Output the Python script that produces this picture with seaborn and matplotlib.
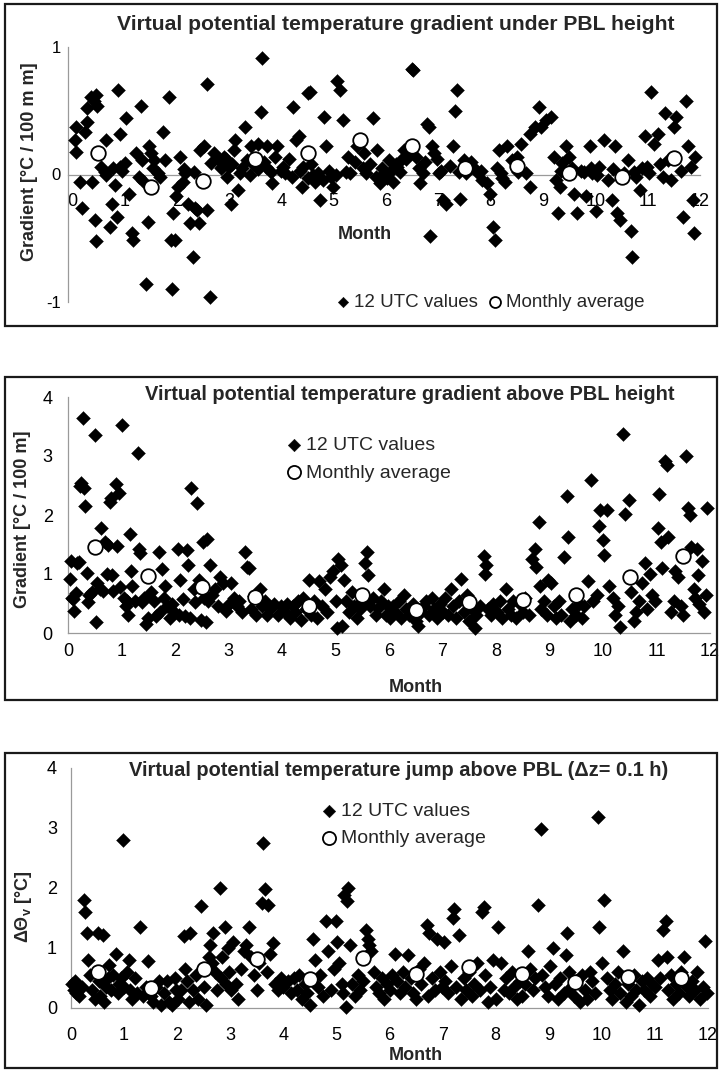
import matplotlib
matplotlib.use("Agg")
import matplotlib.pyplot as plt
from matplotlib.patches import Rectangle
import seaborn as sns
import pandas as pd

sns.set_style("white")
plt.rcParams['font.family'] = ['Liberation Sans Narrow', 'Liberation Sans', 'DejaVu Sans']
plt.rcParams['mathtext.fontset'] = 'custom'
plt.rcParams['mathtext.rm'] = 'Liberation Sans'
plt.rcParams['mathtext.it'] = 'Liberation Sans:italic'
plt.rcParams['axes.unicode_minus'] = False

# ---------------- data ----------------
avg_months = [0.5, 1.5, 2.5, 3.5, 4.5, 5.5, 6.5, 7.5, 8.5, 9.5, 10.5, 11.5]
under_avg = [0.165, -0.10, -0.05, 0.12, 0.165, 0.27, 0.22, 0.05, 0.07, 0.01, -0.02, 0.13]
above_avg = [1.45, 0.97, 0.78, 0.61, 0.45, 0.65, 0.39, 0.52, 0.56, 0.65, 0.95, 1.30]
jump_avg = [0.60, 0.34, 0.65, 0.82, 0.49, 0.84, 0.57, 0.69, 0.57, 0.43, 0.52, 0.50]

under_pts = [
    (0.05, 0.27), (0.08, 0.18), (0.08, 0.37), (0.15, -0.06), (0.18, -0.26), (0.24, 0.33), (0.29, 0.41),
    (0.29, 0.52), (0.36, 0.61), (0.42, 0.58), (0.46, 0.62), (0.48, 0.54), (0.37, -0.06), (0.44, -0.36),
    (0.46, -0.52), (0.55, 0.06), (0.64, 0.27), (0.64, 0.0), (0.72, -0.41), (0.77, -0.23), (0.82, -0.08),
    (0.85, -0.33), (0.88, 0.66), (0.92, 0.32), (0.92, 0.06), (1.0, 0.09), (1.02, 0.44), (1.09, -0.15),
    (1.14, -0.46), (1.16, -0.51), (1.22, 0.17), (1.27, -0.02), (1.32, 0.54), (1.34, 0.11), (1.41, -0.86),
    (1.44, -0.37), (1.47, 0.22), (1.51, 0.17), (1.56, 0.11), (1.64, 0.01), (1.68, -0.02), (1.73, 0.33),
    (1.77, 0.11), (1.86, 0.61), (1.88, -0.51), (1.9, -0.9), (1.92, -0.3), (1.96, -0.51), (1.98, -0.17),
    (2.02, -0.1), (2.07, 0.14), (2.12, -0.06), (2.16, 0.01), (2.22, -0.23), (2.25, -0.38), (2.3, -0.65),
    (2.34, -0.26), (2.38, -0.28), (2.42, -0.38), (2.45, 0.19), (2.52, 0.22), (2.58, 0.71), (2.58, -0.28),
    (2.64, -0.96), (2.66, 0.09), (2.72, 0.17), (2.8, 0.11), (2.86, 0.06), (2.9, 0.14), (2.95, -0.02),
    (2.99, 0.06), (3.04, -0.23), (3.1, 0.19), (3.12, 0.27), (3.17, -0.12), (3.2, 0.01), (3.3, 0.37),
    (3.34, 0.11), (3.42, 0.22), (3.56, 0.24), (3.61, 0.49), (3.62, 0.91), (3.7, 0.06), (3.72, 0.22),
    (3.82, -0.07), (3.87, 0.14), (3.92, 0.22), (4.0, 0.03), (4.07, 0.01), (4.22, 0.53), (4.28, 0.27),
    (4.34, 0.3), (4.39, -0.1), (4.42, 0.06), (4.5, 0.64), (4.55, 0.65), (4.61, 0.0), (4.65, -0.06),
    (4.74, -0.2), (4.82, 0.45), (4.85, 0.22), (4.9, 0.03), (4.98, -0.1), (5.07, 0.73), (5.12, 0.66),
    (5.18, 0.43), (5.27, 0.14), (5.31, 0.01), (5.44, 0.22), (5.57, 0.17), (5.62, 0.01), (5.75, 0.44),
    (5.83, 0.19), (5.88, -0.07), (5.96, 0.01), (6.05, 0.11), (6.14, -0.06), (6.21, 0.06), (6.29, 0.11),
    (6.35, 0.19), (6.42, 0.17), (6.49, 0.83), (6.52, 0.82), (6.57, 0.14), (6.65, -0.07), (6.71, 0.01),
    (6.79, 0.4), (6.82, 0.37), (6.84, -0.48), (6.88, 0.22), (6.92, 0.17), (7.01, 0.01), (7.08, -0.2),
    (7.14, -0.23), (7.28, 0.22), (7.32, 0.5), (7.36, 0.66), (7.42, -0.19), (7.49, 0.11), (7.52, 0.01),
    (7.67, 0.06), (7.76, 0.01), (7.84, -0.04), (7.93, -0.07), (7.99, -0.15), (8.04, -0.41), (8.08, -0.51),
    (8.15, 0.19), (8.19, 0.01), (8.28, -0.06), (8.32, 0.22), (8.4, 0.11), (8.5, 0.14), (8.58, 0.24),
    (8.67, 0.01), (8.76, -0.1), (8.76, 0.32), (8.84, 0.37), (8.92, 0.53), (8.97, 0.37), (9.06, 0.43),
    (9.15, 0.45), (9.2, 0.14), (9.24, -0.04), (9.28, -0.3), (9.32, -0.1), (9.37, 0.09), (9.44, 0.22),
    (9.5, 0.14), (9.59, -0.15), (9.65, -0.3), (9.72, 0.03), (9.82, -0.17), (9.9, 0.22), (9.94, 0.01),
    (10.02, -0.29), (10.07, 0.06), (10.16, 0.27), (10.24, -0.04), (10.31, -0.2), (10.37, 0.22),
    (10.42, -0.3), (10.48, -0.36), (10.55, 0.01), (10.63, 0.11), (10.68, -0.44), (10.7, -0.65),
    (10.77, -0.02), (10.85, -0.12), (10.94, 0.3), (10.99, 0.06), (11.07, 0.65), (11.13, 0.24),
    (11.2, 0.32), (11.29, -0.02), (11.33, 0.48), (11.39, 0.11), (11.45, -0.04), (11.51, 0.37),
    (11.55, 0.45), (11.64, 0.03), (11.68, -0.33), (11.73, 0.58), (11.77, 0.22), (11.82, 0.06),
    (11.88, -0.46), (11.9, 0.14), (11.86, -0.2),
    (3.05, 0.08), (3.25, 0.05), (3.4, 0.0), (3.55, 0.04), (3.66, 0.1), (3.8, 0.02), (4.02, 0.06),
    (4.15, 0.12), (4.2, -0.02), (4.36, 0.03), (4.5, -0.03), (4.56, 0.08), (4.7, 0.01), (4.8, -0.04),
    (4.95, -0.02), (5.05, 0.0), (5.24, 0.02), (5.4, 0.1), (5.55, 0.05), (5.7, 0.08), (5.8, -0.02),
    (5.92, 0.05), (6.02, -0.03), (6.1, 0.03), (6.18, 0.08), (6.26, 0.02), (6.38, 0.12), (6.62, 0.05),
    (6.75, 0.1), (6.98, 0.12), (7.05, 0.03), (7.22, 0.07), (7.4, 0.02), (7.62, 0.1), (7.82, 0.03),
    (8.12, 0.05), (8.22, -0.03), (8.52, 0.02), (9.34, 0.03), (9.55, 0.05), (9.78, 0.02), (9.92, 0.05),
    (10.04, 0.0), (10.34, 0.04), (10.73, 0.02), (10.9, 0.05), (11.03, 0.01), (11.24, 0.08),
    (0.62, 0.02), (0.78, 0.05), (0.95, 0.03), (1.35, -0.05), (1.54, 0.05), (2.14, 0.04), (2.33, 0.02),
    (2.84, 0.05), (2.94, 0.12), (3.45, 0.08),
]

above_pts = [
    (0.03, 0.92), (0.05, 1.22), (0.08, 0.6), (0.1, 0.58), (0.12, 0.37), (0.15, 0.68), (0.17, 1.18),
    (0.2, 1.2), (0.22, 2.5), (0.25, 2.55), (0.28, 3.65), (0.3, 2.45), (0.32, 2.15), (0.35, 1.02),
    (0.37, 0.52), (0.4, 0.65), (0.45, 0.7), (0.5, 3.35), (0.52, 0.18), (0.55, 0.85), (0.6, 0.75),
    (0.62, 1.78), (0.65, 0.72), (0.7, 1.55), (0.72, 1.0), (0.75, 1.5), (0.78, 2.22), (0.8, 2.28),
    (0.82, 0.98), (0.85, 0.72), (0.9, 2.52), (0.92, 1.48), (0.95, 2.38), (0.97, 0.78), (1.0, 3.52),
    (1.05, 0.6), (1.08, 0.45),
    (1.1, 0.55), (1.12, 0.3), (1.15, 1.68), (1.18, 1.05), (1.2, 0.8), (1.25, 0.55), (1.3, 3.05),
    (1.32, 1.42), (1.35, 1.35), (1.38, 0.52), (1.42, 0.6), (1.45, 0.15), (1.5, 0.25), (1.55, 0.7),
    (1.6, 0.55), (1.65, 0.28), (1.7, 1.38), (1.72, 0.35), (1.75, 1.08), (1.8, 0.6), (1.82, 0.8),
    (1.85, 0.45), (1.9, 0.25), (1.95, 0.5), (1.98, 0.35),
    (2.05, 1.42), (2.08, 0.3), (2.1, 0.9), (2.15, 0.58), (2.18, 0.28), (2.22, 1.4), (2.25, 1.15),
    (2.28, 0.25), (2.3, 2.45), (2.35, 0.75), (2.38, 0.52), (2.42, 2.2), (2.45, 0.9), (2.48, 0.22),
    (2.52, 1.55), (2.55, 0.6), (2.58, 0.18), (2.6, 1.6), (2.62, 0.55), (2.65, 1.15), (2.7, 0.65),
    (2.75, 0.75), (2.8, 0.45), (2.85, 0.95), (2.9, 0.85), (2.95, 0.38), (3.0, 0.5),
    (3.05, 0.85), (3.1, 0.6), (3.15, 0.45), (3.2, 0.55), (3.25, 0.35), (3.3, 1.38), (3.35, 1.12),
    (3.38, 1.1), (3.42, 0.4), (3.48, 0.62), (3.52, 0.3), (3.58, 0.75), (3.62, 0.45), (3.68, 0.55),
    (3.72, 0.3), (3.78, 0.4), (3.85, 0.5), (3.92, 0.3), (3.98, 0.45),
    (4.05, 0.35), (4.1, 0.5), (4.15, 0.25), (4.2, 0.45), (4.25, 0.35), (4.3, 0.55), (4.35, 0.22),
    (4.4, 0.6), (4.45, 0.4), (4.5, 0.9), (4.55, 0.3), (4.6, 0.55), (4.65, 0.25), (4.7, 0.88),
    (4.75, 0.45), (4.8, 0.75), (4.85, 0.35), (4.9, 0.95), (4.95, 1.05), (5.0, 0.55),
    (5.02, 0.08), (5.05, 1.25), (5.1, 1.15), (5.12, 0.12), (5.15, 0.9), (5.2, 0.55), (5.25, 0.35),
    (5.3, 0.7), (5.35, 0.45), (5.4, 0.25), (5.45, 0.4), (5.5, 0.55), (5.55, 1.18), (5.58, 1.38),
    (5.6, 0.98), (5.65, 0.45), (5.7, 0.6), (5.75, 0.3), (5.8, 0.42), (5.85, 0.55), (5.9, 0.75),
    (5.95, 0.3), (5.98, 0.45),
    (6.02, 0.25), (6.08, 0.45), (6.12, 0.35), (6.18, 0.55), (6.22, 0.25), (6.28, 0.65), (6.32, 0.4),
    (6.38, 0.3), (6.45, 0.5), (6.5, 0.2), (6.55, 0.12), (6.6, 0.35), (6.65, 0.45), (6.7, 0.55),
    (6.75, 0.3), (6.8, 0.6), (6.85, 0.4), (6.9, 0.25), (6.95, 0.5), (7.0, 0.35),
    (7.05, 0.6), (7.1, 0.3), (7.15, 0.75), (7.2, 0.45), (7.25, 0.25), (7.3, 0.55), (7.35, 0.92),
    (7.4, 0.35), (7.45, 0.65), (7.5, 0.2), (7.55, 0.4), (7.6, 0.08), (7.62, 0.3), (7.7, 0.45),
    (7.78, 1.3), (7.8, 1.0), (7.82, 1.15), (7.85, 0.4), (7.9, 0.3), (7.95, 0.5),
    (8.02, 0.35), (8.08, 0.55), (8.12, 0.25), (8.18, 0.75), (8.22, 0.4), (8.28, 0.3), (8.32, 0.55),
    (8.38, 0.25), (8.45, 0.5), (8.5, 0.35), (8.55, 0.6), (8.62, 0.3), (8.68, 1.25), (8.72, 1.42),
    (8.75, 1.12), (8.8, 1.88), (8.82, 0.8), (8.85, 0.4), (8.9, 0.55), (8.95, 0.3), (8.98, 0.9),
    (9.02, 0.85), (9.08, 0.45), (9.12, 0.25), (9.18, 0.55), (9.22, 0.3), (9.28, 1.28), (9.32, 2.32),
    (9.35, 1.62), (9.38, 0.2), (9.42, 0.4), (9.5, 0.3), (9.55, 0.5), (9.6, 0.25), (9.65, 0.45),
    (9.72, 0.88), (9.78, 2.6), (9.82, 0.55), (9.88, 0.65), (9.92, 1.82), (9.95, 2.08),
    (10.0, 1.58), (10.02, 1.32), (10.08, 2.08), (10.12, 0.8), (10.18, 0.6), (10.22, 0.3), (10.28, 0.45),
    (10.32, 0.1), (10.38, 3.38), (10.42, 2.02), (10.48, 2.25), (10.52, 0.7), (10.58, 0.2), (10.62, 0.35),
    (10.68, 0.55), (10.72, 0.85), (10.78, 1.18), (10.82, 0.4), (10.88, 1.0), (10.92, 0.65), (10.98, 0.55),
    (11.02, 1.78), (11.05, 2.35), (11.08, 1.55), (11.1, 1.1), (11.15, 2.92), (11.2, 2.85), (11.22, 1.62),
    (11.28, 0.35), (11.32, 0.55), (11.35, 1.05), (11.4, 0.95), (11.45, 0.45), (11.5, 0.3), (11.55, 3.0),
    (11.58, 2.12), (11.62, 2.0), (11.65, 1.45), (11.7, 0.75), (11.72, 0.6), (11.75, 1.42), (11.78, 0.98),
    (11.8, 0.5), (11.85, 1.22), (11.88, 0.35), (11.92, 0.65), (11.95, 2.12),
]

jump_pts = [
    (0.02, 0.4), (0.05, 0.3), (0.08, 0.45), (0.1, 0.25), (0.12, 0.35), (0.15, 0.2), (0.2, 0.35),
    (0.25, 1.8), (0.27, 1.6), (0.3, 1.25), (0.32, 0.8), (0.35, 0.55), (0.4, 0.3), (0.45, 0.15),
    (0.5, 1.25), (0.52, 0.45), (0.55, 0.2), (0.6, 1.22), (0.62, 0.1), (0.65, 0.35), (0.7, 0.5),
    (0.72, 0.72), (0.75, 0.3), (0.8, 0.55), (0.85, 0.9), (0.88, 0.25), (0.9, 0.4), (0.95, 0.5),
    (0.98, 2.8), (1.0, 0.35),
    (1.05, 0.6), (1.1, 0.8), (1.12, 0.3), (1.15, 0.15), (1.2, 0.5), (1.25, 0.25), (1.3, 1.35),
    (1.35, 0.2), (1.42, 0.35), (1.45, 0.78), (1.5, 0.2), (1.55, 0.1), (1.6, 0.35), (1.65, 0.45),
    (1.7, 0.05), (1.75, 0.25), (1.8, 0.45), (1.85, 0.1), (1.9, 0.05), (1.95, 0.5), (1.98, 0.3),
    (2.02, 0.15), (2.08, 0.3), (2.12, 1.2), (2.15, 0.65), (2.18, 0.45), (2.22, 0.1), (2.25, 1.25),
    (2.3, 0.3), (2.35, 0.55), (2.4, 0.15), (2.45, 1.7), (2.5, 0.35), (2.55, 0.05), (2.6, 0.85),
    (2.62, 1.05), (2.65, 0.75), (2.68, 1.25), (2.72, 0.6), (2.75, 0.3), (2.8, 2.0), (2.82, 0.5),
    (2.85, 0.85), (2.9, 1.35), (2.92, 0.4), (2.95, 1.0), (2.98, 0.6),
    (3.02, 0.3), (3.05, 1.1), (3.1, 0.4), (3.15, 0.15), (3.2, 0.65), (3.25, 0.95), (3.3, 1.05),
    (3.35, 1.35), (3.4, 0.85), (3.45, 0.55), (3.5, 0.3), (3.55, 0.75), (3.6, 1.75), (3.62, 2.75),
    (3.65, 1.98), (3.7, 0.6), (3.72, 1.72), (3.75, 0.9), (3.8, 1.08), (3.85, 0.4), (3.9, 0.3),
    (3.95, 0.5),
    (4.0, 0.35), (4.08, 0.45), (4.15, 0.25), (4.2, 0.5), (4.25, 0.3), (4.3, 0.55), (4.35, 0.15),
    (4.4, 0.4), (4.45, 0.25), (4.5, 0.05), (4.55, 1.15), (4.6, 0.8), (4.65, 0.35), (4.7, 0.55),
    (4.75, 0.2), (4.8, 1.45), (4.85, 0.95), (4.9, 0.3), (4.95, 0.65), (5.0, 1.45),
    (5.02, 1.1), (5.05, 0.75), (5.1, 0.4), (5.12, 0.25), (5.15, 1.88), (5.18, 0.02), (5.2, 1.78),
    (5.22, 2.0), (5.25, 1.05), (5.3, 0.4), (5.35, 0.2), (5.4, 0.55), (5.45, 0.3), (5.5, 0.45),
    (5.55, 1.3), (5.6, 1.15), (5.62, 1.05), (5.65, 0.95), (5.7, 0.6), (5.75, 0.35), (5.8, 0.25),
    (5.85, 0.5), (5.9, 0.15), (5.95, 0.4),
    (6.0, 0.3), (6.05, 0.55), (6.1, 0.9), (6.15, 0.45), (6.2, 0.25), (6.25, 0.6), (6.3, 0.35),
    (6.35, 0.88), (6.4, 0.5), (6.45, 0.25), (6.5, 0.15), (6.55, 0.65), (6.6, 0.4), (6.65, 0.75),
    (6.7, 1.38), (6.72, 0.2), (6.75, 1.25), (6.8, 0.5), (6.85, 0.3), (6.9, 1.15), (6.95, 0.6),
    (6.98, 0.35),
    (7.02, 1.1), (7.05, 0.45), (7.1, 0.25), (7.15, 0.7), (7.2, 1.5), (7.22, 1.65), (7.25, 0.35),
    (7.3, 1.22), (7.35, 0.15), (7.4, 0.5), (7.45, 0.3), (7.5, 0.6), (7.55, 0.2), (7.6, 0.4),
    (7.65, 0.75), (7.7, 0.3), (7.75, 1.6), (7.78, 1.68), (7.8, 0.55), (7.85, 0.1), (7.9, 0.35),
    (7.95, 0.8),
    (8.0, 0.15), (8.05, 1.35), (8.1, 0.75), (8.15, 0.3), (8.2, 0.5), (8.25, 0.25), (8.3, 0.6),
    (8.35, 0.35), (8.4, 0.15), (8.45, 0.45), (8.5, 0.2), (8.55, 0.4), (8.6, 0.95), (8.65, 0.65),
    (8.7, 0.3), (8.75, 0.5), (8.8, 1.72), (8.85, 2.98), (8.88, 0.55), (8.92, 0.35), (8.98, 0.2),
    (9.02, 0.7), (9.08, 1.0), (9.12, 0.4), (9.18, 0.15), (9.22, 0.5), (9.28, 0.25), (9.32, 0.88),
    (9.35, 1.25), (9.38, 0.6), (9.42, 0.35), (9.48, 0.2), (9.52, 0.45), (9.58, 0.1), (9.62, 0.55),
    (9.68, 0.3), (9.72, 0.15), (9.78, 0.6), (9.82, 0.45), (9.88, 0.25), (9.92, 3.18), (9.95, 1.35),
    (10.0, 0.75), (10.05, 1.8), (10.1, 0.5), (10.15, 0.3), (10.2, 0.15), (10.25, 0.4), (10.3, 0.6),
    (10.35, 0.25), (10.4, 0.95), (10.45, 0.1), (10.5, 0.4), (10.55, 0.2), (10.6, 0.55), (10.65, 0.3),
    (10.7, 0.05), (10.75, 0.45), (10.8, 0.3), (10.85, 0.5), (10.9, 0.2), (10.95, 0.4),
    (11.0, 0.35), (11.05, 0.8), (11.1, 0.5), (11.15, 1.3), (11.2, 1.45), (11.22, 0.85), (11.25, 0.3),
    (11.3, 0.55), (11.35, 0.15), (11.4, 0.4), (11.45, 0.25), (11.5, 0.6), (11.55, 0.85), (11.6, 0.35),
    (11.65, 0.2), (11.7, 0.45), (11.75, 0.3), (11.8, 0.6), (11.85, 0.15), (11.9, 0.35), (11.95, 1.12),
    (11.98, 0.25),
]

x_ticks = list(range(0, 13))
under_yticks = [-1, 0, 1]
above_yticks = [0, 1, 2, 3, 4]
jump_yticks = [0, 1, 2, 3, 4]

titles = [
    "Virtual potential temperature gradient under PBL height",
    "Virtual potential temperature gradient above PBL height",
    "Virtual potential temperature jump above PBL (\u0394z= 0.1 h)",
]
ylabels = ["Gradient [\u00b0C / 100 m m]", "Gradient [\u00b0C / 100 m]", "\u0394\u0398$_\\mathregular{v}$ [\u00b0C]"]

# ---------------- figure ----------------
W, H = 721, 1072
fig = plt.figure(figsize=(W / 100, H / 100), dpi=100)


def axes_px(left, top, right, bottom):
    return fig.add_axes([left / W, 1 - bottom / H, (right - left) / W, (bottom - top) / H])


def box_px(left, top, right, bottom):
    fig.add_artist(Rectangle((left / W, 1 - bottom / H), (right - left) / W, (bottom - top) / H,
                             transform=fig.transFigure, fill=False, lw=1.6, ec='#1a1a1a'))


AX_GRAY = '#9a9a9a'


def draw_panel(ax, pts, avg, ylim, yticks):
    df = pd.DataFrame(pts, columns=['month', 'value'])
    dfa = pd.DataFrame({'month': avg_months, 'value': avg})
    sns.scatterplot(data=df, x='month', y='value', marker='D', color='black', s=50,
                    edgecolor='black', linewidth=0.3, ax=ax, label='12 UTC values', clip_on=False, zorder=3)
    sns.scatterplot(data=dfa, x='month', y='value', marker='o', color='white', s=110,
                    edgecolor='black', linewidth=1.3, ax=ax, label='Monthly average', clip_on=False, zorder=4)
    ax.set_ylim(*ylim)
    ax.set_yticks(yticks)
    ax.set_xticks(x_ticks)
    ax.set_xlabel('')
    ax.set_ylabel('')
    for s in ['top', 'right']:
        ax.spines[s].set_visible(False)
    for s in ['left', 'bottom']:
        ax.spines[s].set_color(AX_GRAY)
        ax.spines[s].set_linewidth(0.9)
    ax.tick_params(axis='both', direction='out', length=4, width=0.8, color=AX_GRAY, labelcolor='black')
    ax.set_facecolor('none')


# Panel 1
box_px(5, 4, 717, 326)
ax1 = axes_px(68, 47, 700, 302)
draw_panel(ax1, under_pts, under_avg, (-1, 1), under_yticks)
ax1.set_xlim(-0.08, 12)
ax1.spines['bottom'].set_position(('data', 0))
ax1.tick_params(axis='x', labelsize=13, pad=9)
ax1.tick_params(axis='y', labelsize=12, pad=1)
ax1.text(5.6, -0.47, 'Month', ha='center', va='center', fontsize=13, fontweight='bold')
fig.text(396 / W, 1 - 25 / H, titles[0], ha='center', va='center', fontsize=15.2, fontweight='bold')
fig.text(29 / W, 1 - 162 / H, ylabels[0], ha='center', va='center', rotation=90, fontsize=13, fontweight='bold')
ax1.legend(loc='center', bbox_to_anchor=(0.665, 0.0), ncol=2, frameon=False, fontsize=13.5,
           handletextpad=0.0, columnspacing=0.3, borderpad=0, handlelength=1.2, markerscale=0.75)

# Panel 2
box_px(5, 377, 717, 700)
ax2 = axes_px(68, 397, 710, 633)
draw_panel(ax2, above_pts, above_avg, (0, 4), above_yticks)
ax2.set_xlim(0, 12)
ax2.tick_params(axis='x', labelsize=13, pad=3)
ax2.tick_params(axis='y', labelsize=13, pad=7)
fig.text(416 / W, 1 - 687 / H, 'Month', ha='center', va='center', fontsize=13, fontweight='bold')
fig.text(410 / W, 1 - 395 / H, titles[1], ha='center', va='center', fontsize=14.4, fontweight='bold')
fig.text(23 / W, 1 - 519 / H, ylabels[1], ha='center', va='center', rotation=90, fontsize=13, fontweight='bold')
ax2.legend(loc='center left', bbox_to_anchor=(0.322, 0.737), ncol=1, frameon=False, fontsize=14,
           handletextpad=0.1, labelspacing=0.5, borderpad=0, handlelength=1.0, markerscale=0.9)

# Panel 3
box_px(5, 753, 717, 1068)
ax3 = axes_px(71, 768, 708, 1008)
draw_panel(ax3, jump_pts, jump_avg, (0, 4), jump_yticks)
ax3.set_xlim(0, 12)
ax3.tick_params(axis='x', labelsize=13, pad=10)
ax3.tick_params(axis='y', labelsize=13, pad=6)
fig.text(416 / W, 1 - 1056 / H, 'Month', ha='center', va='center', fontsize=13, fontweight='bold')
fig.text(399 / W, 1 - 770 / H, titles[2], ha='center', va='center', fontsize=14.4, fontweight='bold')
fig.text(23 / W, 1 - 907 / H, ylabels[2], ha='center', va='center', rotation=90, fontsize=13, fontweight='bold')
ax3.legend(loc='center left', bbox_to_anchor=(0.375, 0.7625), ncol=1, frameon=False, fontsize=14,
           handletextpad=0.1, labelspacing=0.5, borderpad=0, handlelength=1.0, markerscale=0.9)

fig.savefig('out.png', dpi=100)
